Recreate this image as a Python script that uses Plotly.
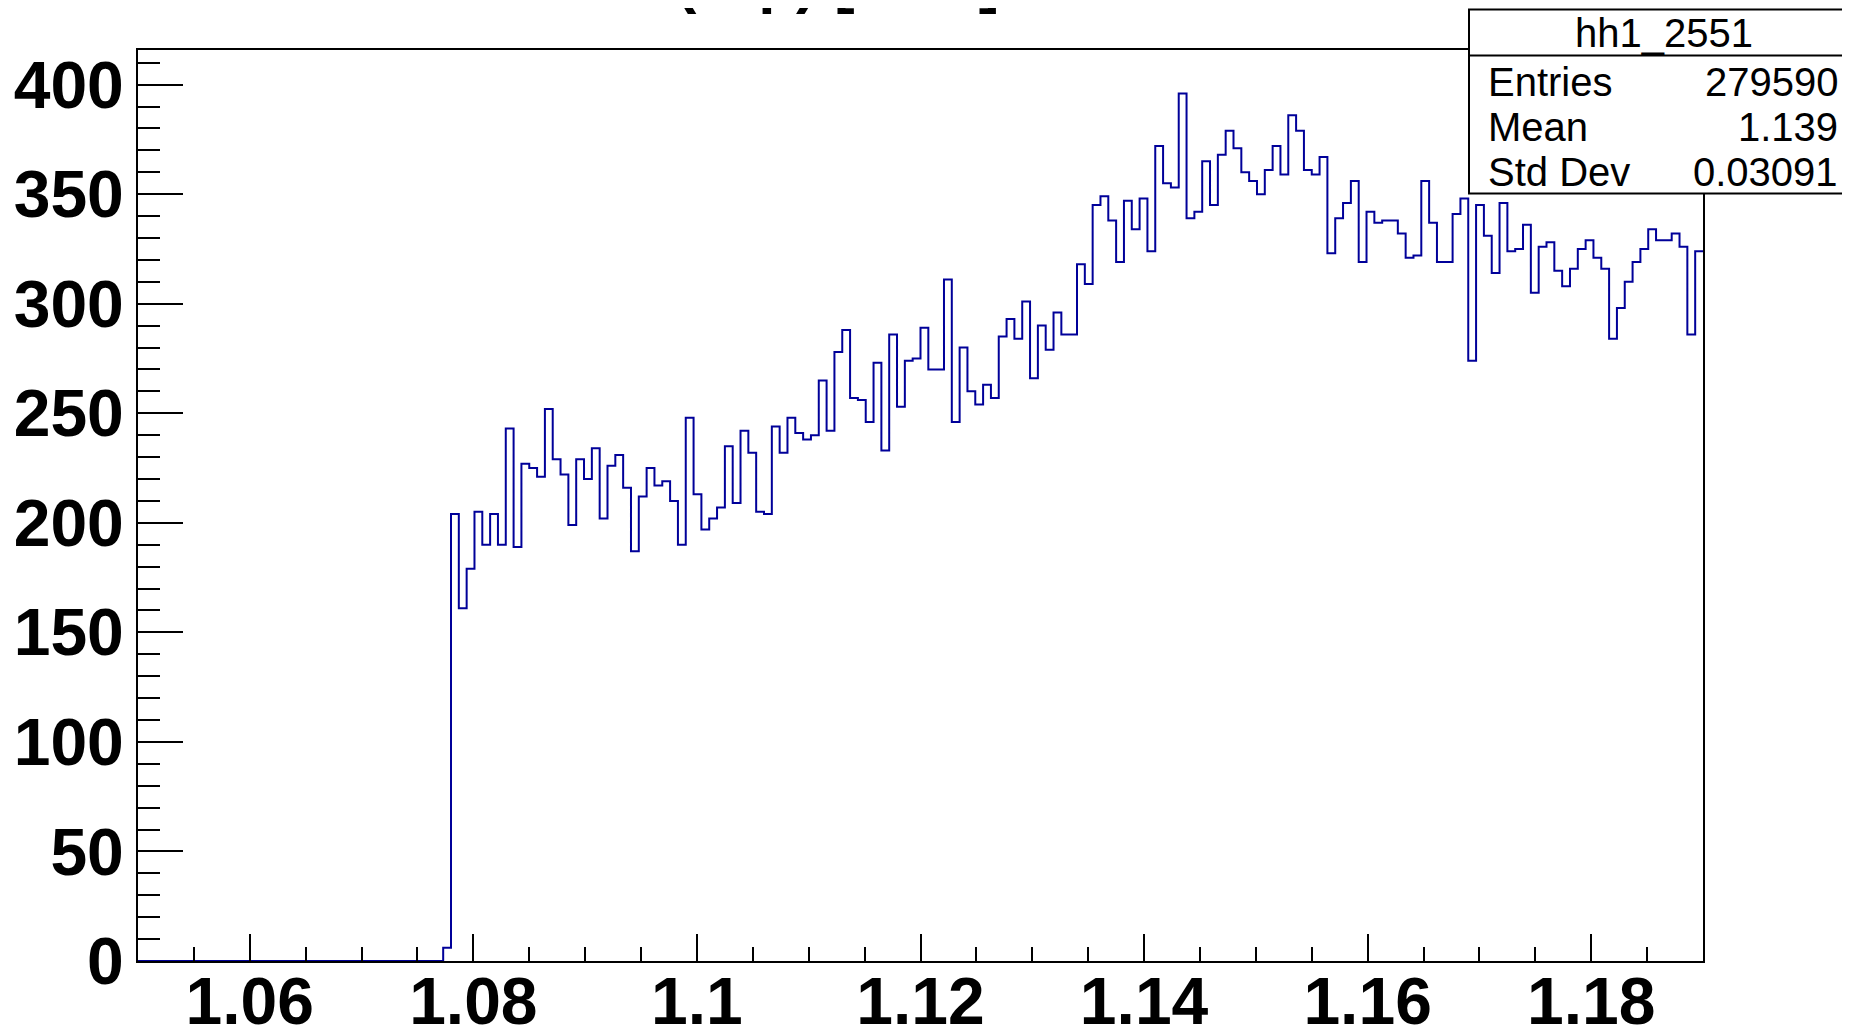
import plotly.graph_objects as go

# ---------------- data ----------------
bin_low = 1.05
bin_width = 0.0007
n_bins = 200
first_filled_bin = 39
counts_filled = [
    6, 204, 161, 179, 205, 190, 204, 190, 243, 189,
    227, 225, 221, 252, 229, 222, 199, 229, 220, 234,
    202, 226, 231, 216, 187, 212, 225, 217, 219, 210,
    190, 248, 213, 197, 202, 207, 235, 209, 242, 232,
    205, 204, 244, 232, 248, 241, 238, 240, 265, 242,
    278, 288, 257, 256, 246, 273, 233, 286, 253, 274,
    275, 289, 270, 270, 311, 246, 280, 260, 254, 263,
    257, 285, 293, 284, 301, 266, 290, 279, 296, 286,
    286, 318, 309, 345, 349, 338, 319, 347, 334, 348,
    324, 372, 355, 353, 396, 339, 342, 365, 345, 368,
    379, 371, 360, 356, 350, 361, 372, 359, 386, 379,
    361, 359, 367, 323, 339, 346, 356, 319, 342, 337,
    338, 338, 332, 321, 322, 356, 337, 319, 319, 341,
    348, 274, 345, 331, 314, 346, 324, 325, 336, 305,
    326, 328, 315, 308, 316, 325, 329, 321, 316, 284,
    298, 310, 319, 325, 334, 329, 329, 332, 326, 286,
    324,
]
x_tickvals = [1.06, 1.08, 1.10, 1.12, 1.14, 1.16, 1.18]
x_ticktext = ["1.06", "1.08", "1.1", "1.12", "1.14", "1.16", "1.18"]
y_tickvals = [0, 50, 100, 150, 200, 250, 300, 350, 400]
y_ticktext = ["0", "50", "100", "150", "200", "250", "300", "350", "400"]
stats_name = "hh1_2551"
stats_labels = ["Entries", "Mean", "Std Dev"]
stats_values = ["279590", "1.139", "0.03091"]
title_text = "M(π<sup>-</sup>p) [GeV]"

counts = [0] * first_filled_bin + counts_filled
counts = counts + [0] * (n_bins - len(counts))
edges = [bin_low + i * bin_width for i in range(n_bins + 1)]
x_vals = edges
y_vals = counts + [counts[-1]]
x_max = bin_low + n_bins * bin_width
y_max = 1.05 * max(counts)

# ---------------- layout geometry (screen pixels) ----------------
SCREEN_W, SCREEN_H = 1850, 1026
OFF = 8                       # default page body margin
W, H = SCREEN_W - OFF, SCREEN_H - OFF
# frame in screen pixels
SL, SR, ST, SB = 138, 1703, 50, 961
L, R, T, B = SL - OFF, SR - OFF, ST - OFF, SB - OFF
PW, PH = R - L, B - T


def px(xs):
    return (xs - OFF - L) / PW


def py(ys):
    return (B - (ys - OFF)) / PH


FONT = "Liberation Sans, Arial, Helvetica, sans-serif"

fig = go.Figure()
fig.add_trace(go.Scatter(
    x=x_vals, y=y_vals, mode="lines",
    line=dict(shape="hv", color="#000099", width=2),
    hoverinfo="skip", showlegend=False,
))

axis_common = dict(
    showgrid=False, zeroline=False, showline=True, linecolor="black",
    linewidth=2, mirror=True, ticks="inside", tickcolor="black", tickwidth=2,
    automargin=False,
    tickfont=dict(family=FONT, size=66, color="black", weight="bold"),
)

fig.update_layout(
    width=W, height=H,
    margin=dict(l=L, r=W - R, t=T, b=H - B, autoexpand=False),
    paper_bgcolor="white", plot_bgcolor="white",
    xaxis=dict(
        range=[bin_low, x_max], tickmode="array", tickvals=x_tickvals,
        ticktext=x_ticktext, ticklen=27,
        minor=dict(tickmode="linear", tick0=bin_low, dtick=0.005, ticklen=14,
                   ticks="inside", tickcolor="black", tickwidth=2),
        ticklabelstandoff=-18,
        **axis_common,
    ),
    yaxis=dict(
        range=[0, y_max], tickmode="array", tickvals=y_tickvals,
        ticktext=y_ticktext, ticklen=45,
        minor=dict(tickmode="linear", tick0=0, dtick=10, ticklen=22,
                   ticks="inside", tickcolor="black", tickwidth=2),
        ticklabelstandoff=-1,
        **axis_common,
    ),
)

# stats box
bx0, bx1, by0, by1, bsep = 1469, 1862, 9.5, 193.5, 55.5
fig.add_shape(type="rect", xref="paper", yref="paper",
              x0=px(bx0), x1=px(bx1), y0=py(by1), y1=py(by0),
              line=dict(color="black", width=2), fillcolor="white", layer="above")
fig.add_shape(type="line", xref="paper", yref="paper",
              x0=px(bx0), x1=px(bx1), y0=py(bsep), y1=py(bsep),
              line=dict(color="black", width=2), layer="above")

fig.add_annotation(xref="paper", yref="paper", x=px(1664), y=py(33),
                   text=stats_name, showarrow=False, xanchor="center", yanchor="middle",
                   font=dict(family=FONT, size=40, color="black"))
row_centers = [82, 127, 172]
for lab, val, yc in zip(stats_labels, stats_values, row_centers):
    fig.add_annotation(xref="paper", yref="paper", x=px(1486), y=py(yc),
                       text=lab, showarrow=False, xanchor="left", yanchor="middle",
                       font=dict(family=FONT, size=40, color="black"))
    fig.add_annotation(xref="paper", yref="paper", x=px(1840), y=py(yc),
                       text=val, showarrow=False, xanchor="right", yanchor="middle",
                       font=dict(family=FONT, size=40, color="black"))

# title (mostly above the page, as in the reference)
fig.add_annotation(xref="paper", yref="paper", x=px(622), y=py(16),
                   text=title_text, showarrow=False, xanchor="left", yanchor="bottom",
                   font=dict(family=FONT, size=62, color="black", weight="bold"))

fig.write_html("out.html")
